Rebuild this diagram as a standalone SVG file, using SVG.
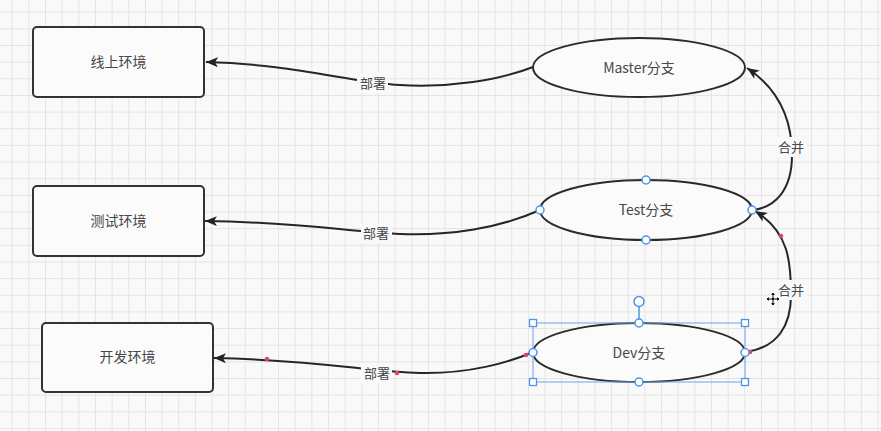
<svg xmlns="http://www.w3.org/2000/svg" width="881" height="431" viewBox="0 0 881 431">
<defs>
<pattern id="grid" patternUnits="userSpaceOnUse" x="11.7" y="11.7" width="16.65" height="16.65">
<path d="M0,0.5 H16.65 M0.5,0 V16.65" fill="none" stroke="#e4e4e4" stroke-width="1"/>
</pattern>
<marker id="arr" markerUnits="userSpaceOnUse" markerWidth="14" markerHeight="12" refX="12" refY="5" orient="auto">
<path d="M0,0 L12,5 L0,10 L3,5 Z" fill="#222"/>
</marker>
<style>
.box{fill:#fbfbfb;stroke:#333;stroke-width:2}
.ell{fill:#fbfbfb;stroke:#2b2b2b;stroke-width:2}
.t{font-family:"Noto Sans CJK SC","Noto Sans",sans-serif;font-size:14px;fill:#484848;text-anchor:middle}
.lb{font-family:"Noto Sans CJK SC","Noto Sans",sans-serif;font-size:13px;fill:#484848;text-anchor:middle}
.edge{fill:none;stroke:#262626;stroke-width:2}
.lbg{fill:#f9f9f9}
.sel{fill:none;stroke:#6aa5ee;stroke-width:1}
.hs{fill:#fff;stroke:#4d94e8;stroke-width:1.3}
.hc{fill:#fff;stroke:#4d94e8;stroke-width:1.5}
.dot{fill:#d9486a}
</style>
</defs>
<rect width="881" height="431" fill="#f9f9f9"/>
<rect width="881" height="431" fill="url(#grid)"/>

<g id="connectors">
<path class="edge" d="M533,67 C500,80 450,88 400,85 C350,82 290,64 206,62" marker-end="url(#arr)"/>
<path class="edge" d="M540,210 C500,228 450,236 400,234 C350,232 300,222 205,221" marker-end="url(#arr)"/>
<path class="edge" d="M533,352 C510,362 470,374 420,373 C370,372 320,360 214,358" marker-end="url(#arr)"/>
<path class="edge" d="M752,210 C775,208 792,190 792,155 C792,120 780,90 747,68" marker-end="url(#arr)"/>
<path class="edge" d="M745,352 C778,348 791,325 791,295 C791,262 789,232 755,211" marker-end="url(#arr)"/>
<rect class="lbg" x="357" y="73" width="31" height="20"/>
<text class="lb" x="373" y="88">部署</text>
<rect class="lbg" x="361" y="223" width="31" height="20"/>
<text class="lb" x="376" y="238">部署</text>
<rect class="lbg" x="361" y="363" width="31" height="20"/>
<text class="lb" x="377" y="378">部署</text>
<rect class="lbg" x="776" y="137" width="31" height="20"/>
<text class="lb" x="791" y="152">合并</text>
<rect class="lbg" x="776" y="280" width="31" height="20"/>
<text class="lb" x="791" y="295">合并</text>
<circle class="dot" cx="267" cy="359" r="2.3"/>
<circle class="dot" cx="397" cy="373" r="2.3"/>
<circle class="dot" cx="526" cy="355" r="2.3"/>
<circle class="dot" cx="750" cy="352" r="2.3"/>
<circle class="dot" cx="781" cy="236" r="2.3"/>
</g>

<g id="node-online">
<rect class="box" x="33" y="27" width="171" height="70" rx="4"/>
<text class="t" x="118.5" y="67">线上环境</text>
</g>
<g id="node-test-env">
<rect class="box" x="33" y="186" width="171" height="70" rx="4"/>
<text class="t" x="118.5" y="226">测试环境</text>
</g>
<g id="node-dev-env">
<rect class="box" x="42" y="323" width="171" height="69" rx="4"/>
<text class="t" x="127.5" y="362">开发环境</text>
</g>

<g id="node-master">
<ellipse class="ell" cx="639" cy="67.5" rx="106" ry="29.5"/>
<text class="t" x="639" y="72.5">Master分支</text>
</g>
<g id="node-test">
<ellipse class="ell" cx="646" cy="210" rx="106" ry="30"/>
<text class="t" x="646" y="215">Test分支</text>
<circle class="hc" cx="646" cy="180" r="4"/>
<circle class="hc" cx="646" cy="240" r="4"/>
<circle class="hc" cx="540" cy="210" r="4"/>
<circle class="hc" cx="752" cy="210" r="4"/>
</g>
<g id="node-dev">
<ellipse class="ell" cx="639" cy="352.5" rx="106" ry="29.5"/>
<text class="t" x="639" y="357.5">Dev分支</text>
<rect class="sel" x="533" y="323" width="212" height="59"/>
<line x1="639" y1="306" x2="639" y2="323" stroke="#4d94e8" stroke-width="1.5"/>
<circle class="hc" cx="639" cy="301.5" r="5"/>
<rect class="hs" x="529.5" y="319.5" width="7" height="7"/>
<rect class="hs" x="741.5" y="319.5" width="7" height="7"/>
<rect class="hs" x="529.5" y="378.5" width="7" height="7"/>
<rect class="hs" x="741.5" y="378.5" width="7" height="7"/>
<circle class="hc" cx="639" cy="323" r="4"/>
<circle class="hc" cx="639" cy="382" r="4"/>
<circle class="hc" cx="533" cy="352.5" r="4"/>
<circle class="hc" cx="745" cy="352.5" r="4"/>
</g>

<g id="cursor" transform="translate(773,299)">
<path d="M0,-7 L3,-4 L1,-4 L1,-1 L4,-1 L4,-3 L7,0 L4,3 L4,1 L1,1 L1,4 L3,4 L0,7 L-3,4 L-1,4 L-1,1 L-4,1 L-4,3 L-7,0 L-4,-3 L-4,-1 L-1,-1 L-1,-4 L-3,-4 Z" fill="#111" stroke="#fff" stroke-width="1"/>
</g>
</svg>
